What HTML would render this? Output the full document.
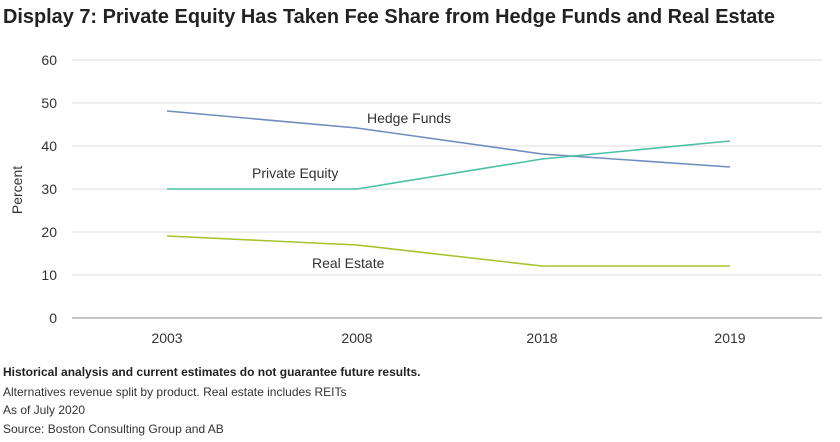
<!DOCTYPE html>
<html><head><style>
body{margin:0;background:#fff;width:840px;height:437px;overflow:hidden;font-family:"Liberation Sans",sans-serif;}
</style></head><body>
<svg width="840" height="437" xmlns="http://www.w3.org/2000/svg" font-family="Liberation Sans, sans-serif">
<text x="3" y="23" font-size="20" font-weight="bold" fill="#222" textLength="772" lengthAdjust="spacingAndGlyphs">Display 7: Private Equity Has Taken Fee Share from Hedge Funds and Real Estate</text>
<g stroke="#e3e3e3" stroke-width="1.2">
<line x1="72" x2="822" y1="60" y2="60"/><line x1="72" x2="822" y1="103" y2="103"/>
<line x1="72" x2="822" y1="146" y2="146"/><line x1="72" x2="822" y1="189" y2="189"/>
<line x1="72" x2="822" y1="232" y2="232"/><line x1="72" x2="822" y1="275" y2="275"/>
</g>
<line x1="72" x2="822" y1="318" y2="318" stroke="#888" stroke-width="1"/>
<g font-size="14" fill="#333" text-anchor="end">
<text x="57" y="65">60</text><text x="57" y="108">50</text><text x="57" y="151">40</text>
<text x="57" y="194">30</text><text x="57" y="237">20</text><text x="57" y="280">10</text><text x="57" y="323">0</text>
</g>
<g font-size="14" fill="#333" text-anchor="middle">
<text x="167" y="343">2003</text><text x="357" y="343">2008</text><text x="542" y="343">2018</text><text x="730" y="343">2019</text>
</g>
<text transform="translate(22,190) rotate(-90)" font-size="14" fill="#333" text-anchor="middle">Percent</text>
<polyline fill="none" stroke="#6f8cbf" stroke-width="1.6" points="167,111 357,128 542,154 730,167"/>
<polyline fill="none" stroke="#4cbfa6" stroke-width="1.6" points="167,189 357,189 542,159 730,141"/>
<polyline fill="none" stroke="#a5c42a" stroke-width="1.6" points="167,236 357,245 542,266 730,266"/>
<g font-size="14" fill="#333">
<text x="367" y="123">Hedge Funds</text>
<text x="252" y="178">Private Equity</text>
<text x="312" y="268">Real Estate</text>
</g>
<text x="3" y="376" font-size="12" font-weight="bold" fill="#222">Historical analysis and current estimates do not guarantee future results.</text>
<g font-size="12" fill="#333">
<text x="3" y="396">Alternatives revenue split by product. Real estate includes REITs</text>
<text x="3" y="414">As of July 2020</text>
<text x="3" y="433">Source: Boston Consulting Group and AB</text>
</g>
</svg>
</body></html>
